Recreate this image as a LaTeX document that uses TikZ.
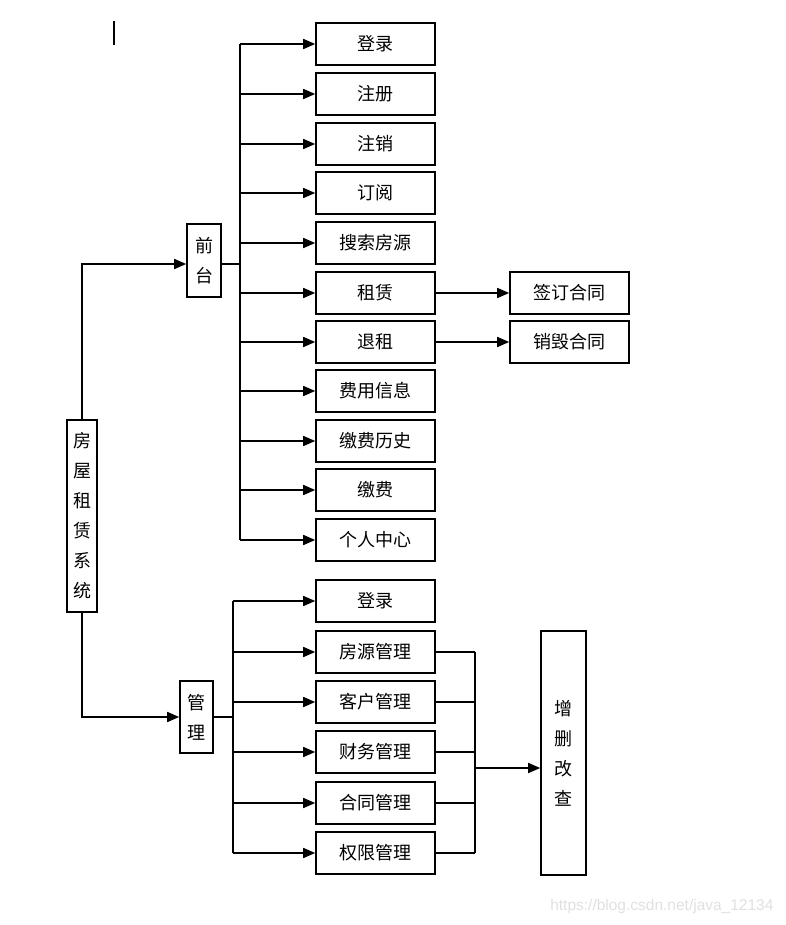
\documentclass[tikz,border=0pt]{standalone}
\usepackage{fontspec}
\newfontfamily\cjk{Noto Sans CJK SC}
\newfontfamily\wmfont{Liberation Sans}
\usetikzlibrary{arrows.meta, calc}

\tikzset{
  box/.style={draw, line width=1.6pt, minimum width=119pt, minimum height=42pt,
              inner sep=0pt, font=\cjk\fontsize{18}{30}\selectfont},
  vbox/.style={draw, line width=1.6pt, inner sep=0pt, align=center,
               font=\cjk\fontsize{18}{30}\selectfont},
  ln/.style={line width=1.6pt},
  arr/.style={ln, -{Triangle[length=12pt, width=10pt]}}
}

\begin{document}
\begin{tikzpicture}[x=1pt, y=-1pt]
        \useasboundingbox (0,0) rectangle (785,925);
        % stray cursor mark
        \draw[ln] (114,21) -- (114,45);

        % root and the two branches
        \node[vbox, minimum width=30pt, minimum height=192pt] (sys) at (82,516)
              {房\\屋\\租\\赁\\系\\统};
        \node[vbox, minimum width=34pt, minimum height=73pt] (qt) at (204,260.5) {前\\台};
        \node[vbox, minimum width=33pt, minimum height=72pt] (gl) at (196.5,717) {管\\理};

        % front desk items
        \node[box] (t1) at (375.5,44) {登录};
        \node[box] (t2) at (375.5,94) {注册};
        \node[box] (t3) at (375.5,144) {注销};
        \node[box] (t4) at (375.5,193) {订阅};
        \node[box] (t5) at (375.5,243) {搜索房源};
        \node[box] (t6) at (375.5,293) {租赁};
        \node[box] (t7) at (375.5,342) {退租};
        \node[box] (t8) at (375.5,391) {费用信息};
        \node[box] (t9) at (375.5,441) {缴费历史};
        \node[box] (t10) at (375.5,490) {缴费};
        \node[box] (t11) at (375.5,540) {个人中心};

        \node[box] (sign) at (569.5,293) {签订合同};
        \node[box] (kill) at (569.5,342) {销毁合同};

        % admin items
        \node[box] (m1) at (375.5,601) {登录};
        \node[box] (m2) at (375.5,652) {房源管理};
        \node[box] (m3) at (375.5,702) {客户管理};
        \node[box] (m4) at (375.5,752) {财务管理};
        \node[box] (m5) at (375.5,803) {合同管理};
        \node[box] (m6) at (375.5,853) {权限管理};

        \node[vbox, minimum width=45pt, minimum height=244pt] (crud) at (563.5,753)
              {增\\删\\改\\查};

        % buses
        \coordinate (qb) at (240,0);
        \coordinate (gb) at (233,0);
        \coordinate (rb) at (475,0);
        \coordinate (qtmid) at (82,264);
        \coordinate (rbmid) at (475,768);

        \draw[arr] (sys.north) |- (qtmid -| qt.west);
        \draw[arr] (sys.south) |- (gl);

        \draw[ln] (qtmid -| qt.east) -- (qtmid -| qb);
        \draw[ln] (qb |- t1) -- (qb |- t11);
        \draw[arr] (qb |- t1) -- (t1);
        \draw[arr] (qb |- t2) -- (t2);
        \draw[arr] (qb |- t3) -- (t3);
        \draw[arr] (qb |- t4) -- (t4);
        \draw[arr] (qb |- t5) -- (t5);
        \draw[arr] (qb |- t6) -- (t6);
        \draw[arr] (qb |- t7) -- (t7);
        \draw[arr] (qb |- t8) -- (t8);
        \draw[arr] (qb |- t9) -- (t9);
        \draw[arr] (qb |- t10) -- (t10);
        \draw[arr] (qb |- t11) -- (t11);

        \draw[arr] (t6) -- (sign);
        \draw[arr] (t7) -- (kill);

        \draw[ln] (gl.east) -- (gl.east -| gb);
        \draw[ln] (gb |- m1) -- (gb |- m6);
        \draw[arr] (gb |- m1) -- (m1);
        \draw[arr] (gb |- m2) -- (m2);
        \draw[arr] (gb |- m3) -- (m3);
        \draw[arr] (gb |- m4) -- (m4);
        \draw[arr] (gb |- m5) -- (m5);
        \draw[arr] (gb |- m6) -- (m6);

        \draw[ln] (m2.east) -- (rb |- m2);
        \draw[ln] (m3.east) -- (rb |- m3);
        \draw[ln] (m4.east) -- (rb |- m4);
        \draw[ln] (m5.east) -- (rb |- m5);
        \draw[ln] (m6.east) -- (rb |- m6);
        \draw[ln] (rb |- m2) -- (rb |- m6);
        \draw[arr] (rbmid) -- (rbmid -| crud.west);

        % watermark
        \node[text=black!12, font=\wmfont\fontsize{15.5}{18}\selectfont, anchor=east] (wm)
              at (777,906) {https://blog.csdn.net/java\_12134};
\end{tikzpicture}
\end{document}
